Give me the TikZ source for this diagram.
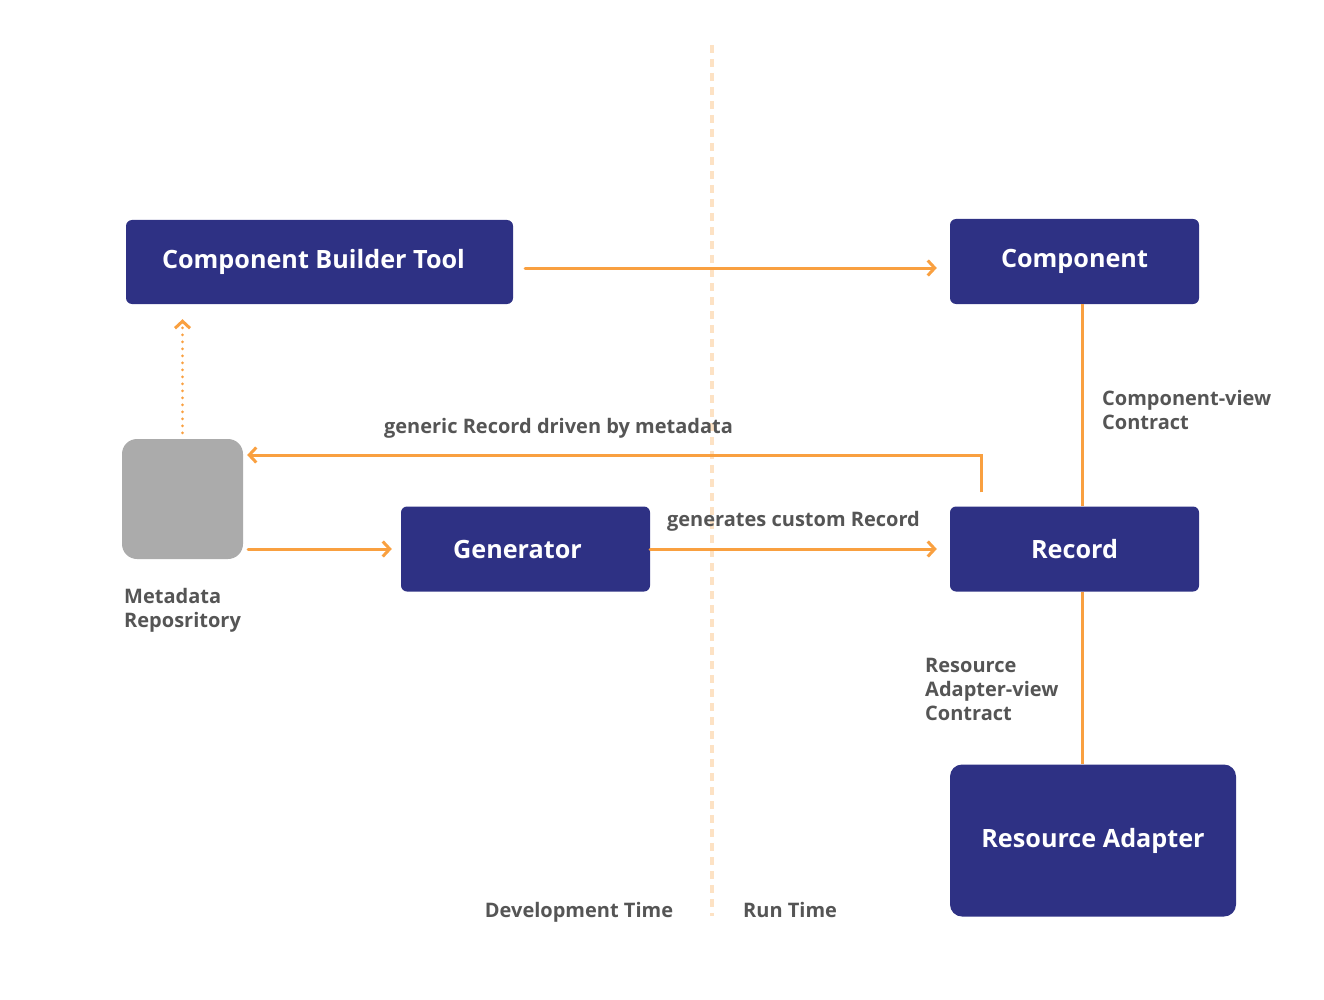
\documentclass[tikz,border=0pt]{standalone}
\usepackage{fontspec}
\setmainfont{Open Sans}
\usetikzlibrary{arrows.meta}
\definecolor{navy}{HTML}{2E3184}
\definecolor{orng}{HTML}{F9A040}
\definecolor{lorng}{HTML}{FDE2C4}
\definecolor{gry}{HTML}{ABABAB}
\definecolor{txt}{HTML}{555555}
\begin{document}
\begin{tikzpicture}[x=1pt,y=-1pt,
  box/.style={draw=none,fill=navy,rounded corners=6pt,text=white,font=\fontsize{25.2}{28}\selectfont\bfseries,inner sep=0pt},
  conn/.style={draw=orng,line width=3pt,line cap=round},
  arr/.style={conn,-{Straight Barb[length=7pt,width=15pt,line width=3pt]}},
  lbl/.style={text=txt,font=\fontsize{20}{24}\selectfont\bfseries,inner sep=0pt,align=left},
  divider/.style={draw=lorng,line width=4pt,dash pattern=on 8pt off 6pt}
]
\useasboundingbox (0,0) rectangle (1324,1000);
\draw[divider] (712,45) -- (712,916);

\node[box,minimum width=387pt,minimum height=84pt] (cbt) at (319.5,262) {Component Builder Tool\hspace*{12pt}};
\node[box,minimum width=249pt,minimum height=85pt] (comp) at (1074.5,261.5) {Component};
\node[box,minimum width=249pt,minimum height=85pt] (gen) at (525.5,549) {Generator\hspace*{16pt}};
\node[box,minimum width=249pt,minimum height=85pt] (rec) at (1074.5,549) {Record};
\node[box,rounded corners=12pt,minimum width=286pt,minimum height=152pt] (ra) at (1093,840.5) {Resource Adapter};
\node[fill=gry,rounded corners=15pt,minimum width=121pt,minimum height=120pt,inner sep=0pt] (meta) at (182.5,499) {};

\node[lbl,anchor=north west] (metal) at (124,588) {Metadata\\Reposritory};
\node[lbl,anchor=north west] (cvl) at (1102,390) {Component-view\\Contract};
\node[lbl,anchor=north west] (ravl) at (925,658) {Resource\\Adapter-view\\Contract};
\node[lbl] (gl) at (558.5,428) {generic Record driven by metadata};
\node[lbl] (gcl) at (793.5,521) {generates custom Record};
\node[lbl,anchor=base] (dev) at (579,917) {Development Time};
\coordinate (rt) at (743,0);
\node[lbl,anchor=base west] (run) at (rt |- dev.base) {Run Time};

\draw[arr,shorten <=12pt,shorten >=13pt] (cbt.east |- 0,268) -- (comp.west |- 0,268);
\draw[arr,dash pattern=on 0pt off 7pt,shorten <=6pt,shorten >=15pt] (meta.north) -- (meta.north |- cbt.south);
\coordinate (g1) at ([xshift=32pt,yshift=14pt]rec.north west);
\draw[arr,line cap=butt,shorten >=4pt] (g1) |- ([yshift=44pt]meta.east);
\draw[arr,shorten <=5pt,shorten >=9pt] (meta.east |- gen.west) -- (gen.west);
\draw[arr,shorten >=13pt] (gen.east) -- (rec.west);
\draw[conn,line cap=butt] ([xshift=7.5pt]comp.south) -- ([xshift=7.5pt]rec.north);
\draw[conn,line cap=butt] ([xshift=7.5pt]rec.south) -- ([xshift=7.5pt]rec.south |- ra.north);
\end{tikzpicture}
\end{document}
